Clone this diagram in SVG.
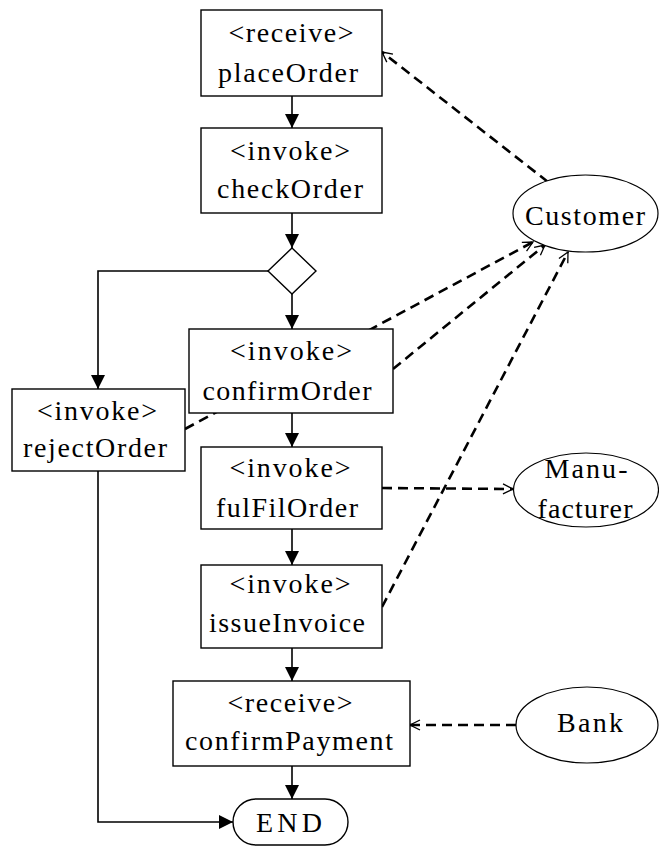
<svg xmlns="http://www.w3.org/2000/svg" width="659" height="846" viewBox="0 0 659 846">
<style>
.box{fill:#fff;stroke:#000;stroke-width:1.4}
.ell{fill:#fff;stroke:#000;stroke-width:1.2}
.t{font-family:"Liberation Serif","Times New Roman",serif;font-size:28px;fill:#000;text-anchor:middle}
.s{fill:none;stroke:#000;stroke-width:1.6}
.d{fill:none;stroke:#000;stroke-width:2.6;stroke-dasharray:10 6}
</style>
<defs>
<marker id="fa" markerWidth="14" markerHeight="14" refX="14" refY="7" orient="auto" markerUnits="userSpaceOnUse">
<path d="M0,0 L14,7 L0,14 Z" fill="#000"/>
</marker>
<marker id="oa" markerWidth="12" markerHeight="12" refX="11" refY="6" orient="auto" markerUnits="userSpaceOnUse">
<path d="M1,1 L11,6 L1,11" fill="none" stroke="#000" stroke-width="1.3"/>
</marker>
</defs>
<rect width="659" height="846" fill="#fff"/>
<g id="connectors">
<line class="s" x1="292" y1="96" x2="292" y2="128" marker-end="url(#fa)"/>
<line class="s" x1="292" y1="213" x2="292" y2="248" marker-end="url(#fa)"/>
<line class="s" x1="292" y1="294" x2="292" y2="329" marker-end="url(#fa)"/>
<line class="s" x1="292" y1="413" x2="292" y2="447" marker-end="url(#fa)"/>
<line class="s" x1="292" y1="529" x2="292" y2="565" marker-end="url(#fa)"/>
<line class="s" x1="292" y1="648" x2="292" y2="681" marker-end="url(#fa)"/>
<line class="s" x1="292" y1="766" x2="292" y2="799" marker-end="url(#fa)"/>
<polyline class="s" points="268,271 98,271 98,389" marker-end="url(#fa)"/>
<polyline class="s" points="98,471 98,822 233,822" marker-end="url(#fa)"/>
<line class="d" x1="548" y1="182" x2="382" y2="52" marker-end="url(#oa)"/>
<line class="d" x1="185" y1="429" x2="533" y2="242" marker-end="url(#oa)"/>
<line class="d" x1="393" y1="369" x2="545" y2="245" marker-end="url(#oa)"/>
<line class="d" x1="382" y1="607" x2="568" y2="252" marker-end="url(#oa)"/>
<line class="d" x1="382" y1="488" x2="513" y2="489" marker-end="url(#oa)"/>
<line class="d" x1="516" y1="725" x2="410" y2="725" marker-end="url(#oa)"/>
</g>
<g id="placeOrder">
<rect class="box" x="201" y="10" width="181" height="86"/>
<text class="t" x="291" y="42" textLength="125" lengthAdjust="spacing">&lt;receive&gt;</text>
<text class="t" x="288" y="82" textLength="140" lengthAdjust="spacing">placeOrder</text>
</g>
<g id="checkOrder">
<rect class="box" x="201" y="128" width="181" height="85"/>
<text class="t" x="290" y="160" textLength="120" lengthAdjust="spacing">&lt;invoke&gt;</text>
<text class="t" x="290" y="198" textLength="146" lengthAdjust="spacing">checkOrder</text>
</g>
<g id="decision">
<polygon class="box" points="292,248 316,271 292,294 268,271"/>
</g>
<g id="confirmOrder">
<rect class="box" x="189" y="329" width="204" height="84"/>
<text class="t" x="291" y="360" textLength="122" lengthAdjust="spacing">&lt;invoke&gt;</text>
<text class="t" x="287" y="400" textLength="169" lengthAdjust="spacing">confirmOrder</text>
</g>
<g id="rejectOrder">
<rect class="box" x="12" y="389" width="173" height="82"/>
<text class="t" x="97" y="420" textLength="120" lengthAdjust="spacing">&lt;invoke&gt;</text>
<text class="t" x="95" y="457" textLength="144" lengthAdjust="spacing">rejectOrder</text>
</g>
<g id="fulFilOrder">
<rect class="box" x="201" y="447" width="181" height="82"/>
<text class="t" x="290" y="477" textLength="121" lengthAdjust="spacing">&lt;invoke&gt;</text>
<text class="t" x="287" y="517" textLength="142" lengthAdjust="spacing">fulFilOrder</text>
</g>
<g id="issueInvoice">
<rect class="box" x="201" y="565" width="181" height="83"/>
<text class="t" x="290" y="593" textLength="121" lengthAdjust="spacing">&lt;invoke&gt;</text>
<text class="t" x="287" y="632" textLength="156" lengthAdjust="spacing">issueInvoice</text>
</g>
<g id="confirmPayment">
<rect class="box" x="173" y="681" width="237" height="85"/>
<text class="t" x="290" y="712" textLength="125" lengthAdjust="spacing">&lt;receive&gt;</text>
<text class="t" x="289" y="750" textLength="208" lengthAdjust="spacing">confirmPayment</text>
</g>
<g id="end">
<rect class="box" x="233" y="799" width="115" height="46" rx="23" ry="23"/>
<text class="t" x="289" y="832" textLength="66" lengthAdjust="spacing">END</text>
</g>
<g id="customer">
<ellipse class="ell" cx="585.5" cy="213.5" rx="72.5" ry="38.5"/>
<text class="t" x="585" y="225" textLength="120" lengthAdjust="spacing">Customer</text>
</g>
<g id="manufacturer">
<ellipse class="ell" cx="586" cy="490" rx="72.5" ry="37"/>
<text class="t" x="586" y="478" textLength="83" lengthAdjust="spacing">Manu-</text>
<text class="t" x="585" y="518" textLength="95" lengthAdjust="spacing">facturer</text>
</g>
<g id="bank">
<ellipse class="ell" cx="587" cy="725" rx="71" ry="38"/>
<text class="t" x="590" y="732" textLength="66" lengthAdjust="spacing">Bank</text>
</g>
</svg>
